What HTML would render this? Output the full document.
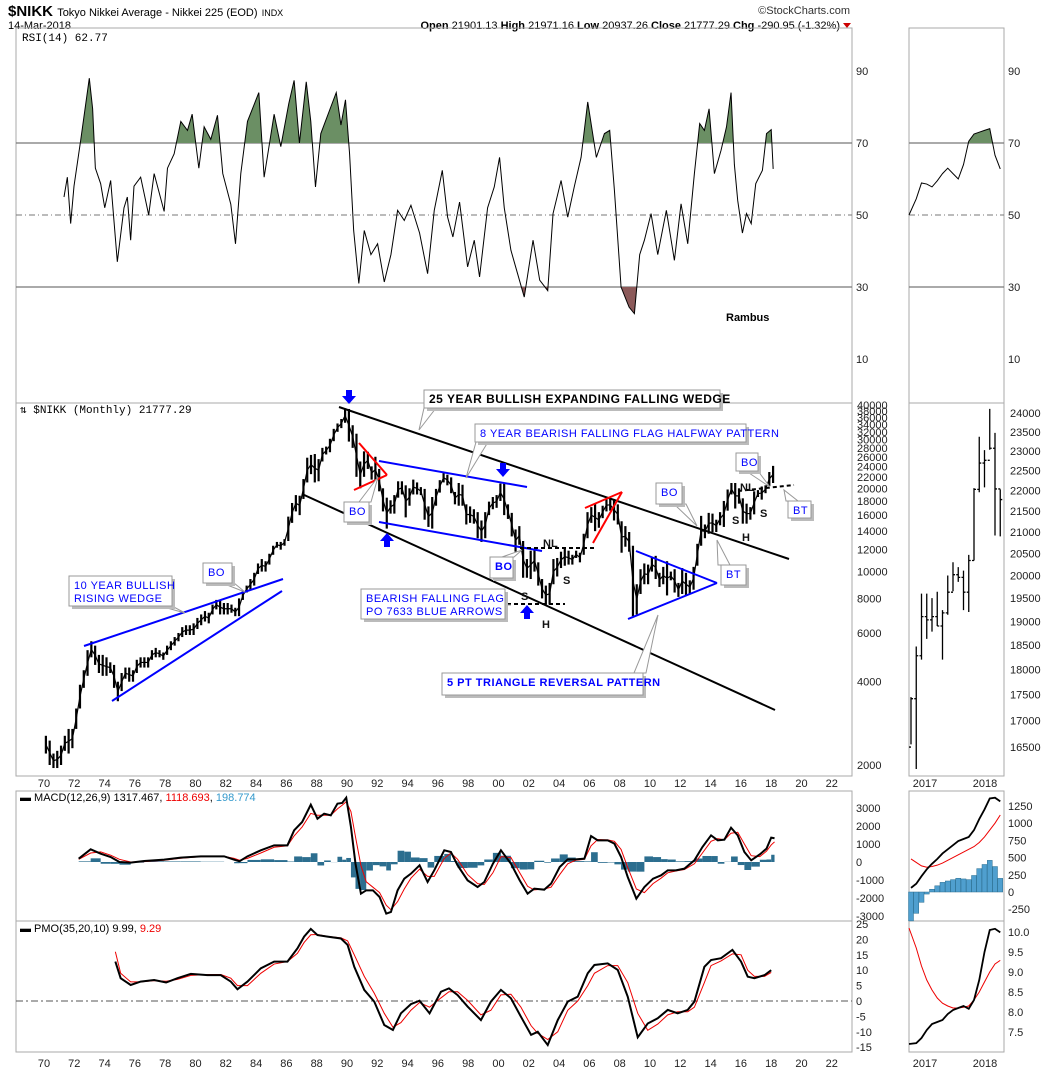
<!DOCTYPE html>
<html><head><meta charset="utf-8"><style>
body{margin:0;background:#fff;}
svg{display:block;font-family:"Liberation Sans",sans-serif;}
.ax{font-size:11px;fill:#222;}
</style></head><body>
<svg id="c" width="1050" height="1069" viewBox="0 0 1050 1069">
<g>
<text x="8" y="16" font-size="15" font-weight="bold">$NIKK <tspan font-size="11" font-weight="normal">Tokyo Nikkei Average - Nikkei 225 (EOD)</tspan> <tspan font-size="9" font-weight="normal">INDX</tspan></text>
<text x="8" y="29" font-size="11">14-Mar-2018</text>
<text x="850" y="14" font-size="11" fill="#333" text-anchor="end">©StockCharts.com</text>
<text x="840" y="29" font-size="11" text-anchor="end"><tspan font-weight="bold">Open</tspan> 21901.13 <tspan font-weight="bold">High</tspan> 21971.16 <tspan font-weight="bold">Low</tspan> 20937.26 <tspan font-weight="bold">Close</tspan> 21777.29 <tspan font-weight="bold">Chg</tspan> -290.95 (-1.32%)</text>
<polygon points="843,23 851,23 847,28" fill="#c00"/>
</g>
<g id="frames"></g>
<g id="plot"></g>
<g id="notes"></g>
</svg>
<script>
// ---------- data ----------
const priceLowsK=[2.2,2.0,1.95,1.95, 2.0,2.25,2.2,2.3, 2.7,3.2,3.8,4.2, 4.9,4.6,4.3,4.2, 4.2,4.3,3.8,3.4, 3.7,4.1,4.0,4.0, 4.3,4.5,4.5,4.5, 4.8,4.9,4.9,4.8, 5.0,5.2,5.4,5.6, 5.8,5.9,5.9,5.9, 6.2,6.4,6.6,6.5, 7.0,7.3,7.0,7.0, 7.0,7.1,6.9,6.9, 7.9,8.4,8.6,8.9, 9.8,10.0,10.0,10.6, 11.5,12.2,12.0,12.4, 12.9,15.0,16.5,16.0, 18.3,21.0,22.5,21.0, 21.2,25.0,26.5,27.0, 29.6,32.0,33.0,34.5, 29.5,28.0,22.0,20.0, 22.0,23.5,21.5,21.0, 19.5,16.5,14.3,16.2, 16.2,18.5,19.0,15.7, 17.3,19.0,19.0,18.9, 15.4,14.5,14.3,17.3, 19.3,21.0,20.5,19.2, 17.5,17.3,17.3,14.8, 15.0,14.9,13.2,12.8, 13.2,16.0,16.8,17.0, 18.0,16.0,15.5,13.4, 11.8,12.5,9.5,9.5, 9.4,10.0,8.9,8.0, 7.6,7.6,9.0,9.6, 10.3,10.5,10.6,10.6, 11.2,10.8,11.5,13.2, 15.0,14.0,14.4,15.6, 16.5,16.6,15.3,14.8, 11.7,12.3,11.8,6.9, 7.0,8.3,9.0,9.0, 10.0,9.4,8.8,9.0, 8.2,9.3,8.4,8.1, 8.3,8.2,8.3,8.6, 10.5,12.4,13.2,13.7, 13.9,13.9,14.7,14.5, 16.6,19.0,16.9,17.6, 14.9,14.9,15.4,16.1, 18.6,18.2,19.2,20.4, 20.9];
const priceHighsK=[2.55,2.45,2.2,2.25, 2.35,2.55,2.7,2.7, 3.2,3.9,4.4,5.2, 5.6,5.4,5.0,5.0, 4.9,4.7,4.6,4.0, 4.3,4.5,4.5,4.4, 4.8,4.9,4.9,4.9, 5.2,5.3,5.2,5.1, 5.4,5.6,5.8,6.0, 6.3,6.4,6.4,6.5, 6.8,7.0,7.2,7.1, 7.6,7.9,7.9,7.7, 7.7,7.6,7.4,8.0, 8.5,8.9,9.4,9.9, 10.7,11.1,10.9,11.6, 12.4,12.8,12.8,13.1, 15.8,17.7,18.9,18.8, 21.6,25.8,26.4,26.6, 25.5,28.0,28.3,30.2, 32.8,34.3,35.6,38.9, 38.7,33.8,31.5,25.0, 27.2,27.1,24.0,26.0, 23.5,20.0,18.5,18.1, 18.9,21.2,21.2,20.5, 20.0,21.5,21.0,20.2, 19.9,17.2,18.6,19.9, 21.4,22.7,22.4,21.9, 19.4,20.9,20.6,17.5, 17.2,16.8,16.4,15.3, 16.4,17.9,18.6,18.9, 20.8,20.8,17.5,16.3, 14.2,14.6,12.9,11.1, 11.9,12.0,10.8,9.4, 8.9,9.1,11.1,11.2, 11.8,12.2,11.9,11.5, 11.9,11.7,13.7,16.4, 17.1,17.6,16.4,17.3, 18.3,18.3,18.3,17.5, 15.2,14.6,13.9,12.4, 9.0,10.2,10.7,10.6, 11.3,11.4,9.9,10.4, 10.9,10.0,10.2,9.1, 10.3,9.9,9.3,10.4, 12.6,15.9,14.8,16.3, 16.2,15.4,16.4,18.0, 19.8,20.9,20.9,20.0, 18.4,17.6,17.1,19.5, 19.7,20.3,20.5,22.9, 24.1];
const priceTicks=[40000,38000,36000,34000,32000,30000,28000,26000,24000,22000,20000,18000,16000,14000,12000,10000,8000,6000,4000,2000];
const yearLabels=["70","72","74","76","78","80","82","84","86","88","90","92","94","96","98","00","02","04","06","08","10","12","14","16","18","20","22"];

const rsiT=[1.32,1.54,1.76,1.98,2.42,2.99,3.21,3.39,3.74,4.01,4.40,4.84,5.28,5.50,5.72,5.94,6.38,6.91,7.27,7.93,8.15,8.59,9.03,9.47,9.78,10.22,10.57,11.01,11.45,11.80,12.33,12.64,12.99,13.43,14.18,14.53,15.19,15.63,16.16,16.51,16.86,17.31,17.61,17.92,18.27,18.93,19.29,19.60,19.90,20.17,20.44,20.78,21.14,21.58,22.02,22.46,22.90,23.34,23.78,24.22,24.79,25.32,25.76,26.29,26.64,26.99,27.43,27.96,28.40,28.75,29.28,29.72,30.07,30.38,30.82,31.26,31.70,32.28,32.72,33.25,33.60,34.13,34.57,35.01,35.45,35.89,36.46,36.99,37.34,37.65,38.09,38.62,38.97,39.32,39.63,40.07,40.51,41.08,41.61,42.05,42.49,42.93,43.28,43.59,43.90,44.25,44.69,45.05,45.35,45.57,45.79,46.10,46.37,46.68,46.98,47.42,47.69,48.00,48.13];
const rsiValues=[55,60.5,47.6,58,70.7,88,79.5,63,58.7,52,59.6,37,52,55,43,58,60.5,50,61.5,51,63,67,76,73.5,78,63,74.5,71,77.7,61.5,53,42,61.5,76,84,60.5,78,69,81,87.4,70,87,76,57.8,72.6,80,84,75,82,67,45.7,31,45.7,39,42,31.4,39,51.3,48.5,52.7,45,33.7,51.3,62.4,49.4,43.9,53.6,35.6,43,32.8,52,57.8,66,52,40.2,33.7,27.2,43,31.9,29,50.4,59.6,49.4,58,66,81.4,66,72.6,73.5,56.9,30,24.4,22.6,39,43,50.4,39,51.3,37.4,53.1,42,61.5,75.4,73.5,79.5,61.5,68,74.5,84,64,54,45,50.4,47.6,58.7,62.4,72.6,73.7,62.8];

const macdT=[2.29,3.08,3.74,4.40,4.98,5.72,6.61,7.93,9.03,10.35,11.89,12.55,12.90,13.43,14.31,15.19,16.07,16.51,17.04,17.61,18.05,18.49,18.93,19.37,19.68,19.95,20.26,20.56,20.92,21.27,21.71,22.15,22.59,22.90,23.34,23.78,24.22,24.79,25.32,25.76,26.42,26.86,27.30,27.96,28.62,29.06,29.63,30.16,30.82,31.40,31.92,32.36,33.02,33.47,34.04,34.57,35.10,35.67,36.11,36.55,37.21,37.65,38.09,38.53,39.10,39.63,40.20,40.73,41.17,41.70,42.27,42.93,43.46,44.03,44.47,44.91,45.35,45.79,46.23,46.68,47.25,47.69,48.00,48.22];
const macdLine=[185,704,463,278,0,-37,56,130,241,315,315,130,37,315,648,926,926,1759,2222,3185,2407,2685,2593,3241,3278,3574,1944,-93,-1759,-1574,-1574,-1944,-2870,-2778,-1574,-926,-648,-185,-1111,-463,648,556,-185,-1019,-1389,-1111,-93,648,-93,-1019,-1759,-1481,-1537,-1204,-278,148,148,185,1444,1204,1204,1019,278,-833,-2037,-1389,-926,-741,-463,-463,-370,93,833,1481,1204,1241,1907,1481,556,93,426,741,1352,1317];
const macdSignal=[150,500,560,380,150,0,20,100,210,300,315,200,100,200,500,820,900,1450,1950,2700,2600,2600,2600,2950,3150,3350,2800,1400,-200,-1100,-1400,-1700,-2400,-2650,-2200,-1500,-900,-400,-800,-800,200,500,150,-700,-1200,-1250,-600,300,250,-600,-1350,-1550,-1500,-1400,-700,-100,100,150,900,1250,1230,1150,700,-300,-1500,-1700,-1200,-900,-600,-500,-420,-100,500,1150,1300,1230,1600,1650,1000,350,300,600,950,1119];
const macdTicks=[3000,2000,1000,0,-1000,-2000,-3000];

const pmoT=[4.71,5.06,5.72,6.38,7.27,8.06,8.81,9.69,10.79,11.67,12.33,12.77,13.43,14.31,15.19,16.07,16.73,17.17,17.61,18.05,18.71,19.60,20.04,20.48,21.14,21.80,22.46,23.03,23.56,24.22,24.79,25.45,26.20,26.73,27.30,27.96,28.84,29.50,30.16,30.82,31.48,32.15,32.59,33.25,33.91,34.57,35.23,35.89,36.33,37.21,37.87,38.53,39.19,39.85,40.51,41.17,41.83,42.49,42.93,43.59,44.03,44.69,45.44,46.01,46.45,46.89,47.56,48.00];
const pmoLine=[12.8,7.4,5.2,6.3,6.8,6.0,7.4,8.8,8.4,8.4,6.3,3.8,6.3,10.6,12.8,12.8,17.1,20.9,23.4,21.4,20.9,20.3,18.2,11.1,3.6,-0.2,-7.8,-9.4,-4.0,-1.0,0.1,-4.0,3.0,4.1,1.9,-1.8,-6.2,-0.2,3.6,0.9,-5.1,-11.0,-10.0,-14.3,-6.2,-0.2,1.4,9.0,11.7,12.2,10.1,1.4,-11.8,-7.3,-5.6,-2.9,-4.0,-2.9,-0.2,11.1,13.3,13.9,16.6,12.8,7.9,7.4,8.4,9.99];
const pmoSignal=[16,9,6.2,6.2,6.6,6.4,7,8.3,8.6,8.6,7.4,5,5,9,12,12.8,15.5,19,21.5,21.6,21,20.5,19.5,15,8,2.5,-4,-8.5,-7,-3,-0.5,-2,1,3,3,0.2,-4.5,-3,2,2.2,-2,-8,-10.5,-12.5,-10,-3,0,5,9,11.5,11.5,6,-4,-9.5,-7.5,-4.5,-3.5,-3.5,-2,6,11.5,13,15.3,15,10,8,8,9.29];
const pmoTicks=[25,20,15,10,5,0,-5,-10,-15];
const rsiTicks=[90,70,50,30,10];

const rOpen=[16500,17420,18280,19100,19030,19100,18900,19180,19630,20020,19960,19630,20340,22030,22690,22760,23070,22040];
const rHigh=[17450,18470,19600,19600,19500,19640,19240,20000,20300,20190,20110,20470,22060,23370,23020,24110,23470,22030];
const rLow=[16550,16100,18200,18630,18780,18900,18200,19140,19650,19860,19240,19200,20340,21960,22080,23030,20920,20900];
const rClose=[17420,18280,19100,19030,19100,18900,19180,19630,20020,19960,19630,20340,22030,22690,22760,23070,22040,21780];
const rRsi=[50,54.5,58.9,58.6,57.8,59.5,61.5,63,61.5,60,64,70.5,72.5,73,73.5,74,66.6,62.8];
const rMacd=[60,120,230,330,410,480,560,620,680,740,770,800,900,1060,1200,1360,1370,1317];
const rSignal=[480,430,380,360,370,390,420,460,500,540,580,620,660,720,800,900,1000,1119];
const rPmo=[7.2,7.22,7.35,7.55,7.7,7.75,7.8,7.95,8.05,8.1,8.15,8.08,8.3,8.8,9.5,10.05,10.08,9.99];
const rPmoSig=[10.1,9.6,9.15,8.8,8.55,8.35,8.22,8.15,8.1,8.1,8.12,8.15,8.3,8.5,8.75,9.0,9.2,9.29];
const rPriceTicks=[24000,23500,23000,22500,22000,21500,21000,20500,20000,19500,19000,18500,18000,17500,17000,16500];
const rMacdTicks=[1250,1000,750,500,250,0,-250];
const rPmoTicks=[10.0,9.5,9.0,8.5,8.0,7.5];

// ---------- scales ----------
const X=t=>44+t*15.15;
const PY=v=>405+Math.log10(40000/v)*276.7;
const RY=v=>71+(90-v)*3.6;
const MY=v=>862-v*0.018;
const OY=v=>1001-v*3.08;
const RX=i=>911+i*5.25;
const RPY=v=>413+Math.log10(24000/v)*2053;
const RMY=v=>892-v*0.0688;
const ROY=v=>932-(v-10)*40;

const NS="http://www.w3.org/2000/svg";
function mk(tag,attrs,parent){const e=document.createElementNS(NS,tag);for(const k in attrs)e.setAttribute(k,attrs[k]);parent.appendChild(e);return e;}
const frames=document.getElementById('frames'),plot=document.getElementById('plot'),notes=document.getElementById('notes');

[[16,28,852,403,'rsi-panel'],[16,403,852,776,'price-panel'],[16,791,852,921,'macd-panel'],[16,921,852,1052,'pmo-panel'],
 [909,28,1004,403,'rsi-zoom-panel'],[909,403,1004,776,'price-zoom-panel'],[909,791,1004,921,'macd-zoom-panel'],[909,921,1004,1052,'pmo-zoom-panel']].forEach(f=>{
 const r=mk('rect',{x:f[0],y:f[1],width:f[2]-f[0],height:f[3]-f[1],fill:'none',stroke:'#aaa','stroke-width':1},frames);
 
 
});

[783,1063].forEach(yy=>{
 yearLabels.forEach((lab,i)=>{
  const t=mk('text',{x:X(i*2),y:yy+4,class:'ax','text-anchor':'middle'},frames);t.textContent=lab;
  
  
 });
 ['2017','2018'].forEach((lab,i)=>{
  const t=mk('text',{x:925+i*60,y:yy+4,class:'ax','text-anchor':'middle'},frames);t.textContent=lab;
  
  
 });
});

rsiTicks.forEach(v=>{
 [[856,'rsi-tick'],[1008,'zoom-rsi-tick']].forEach(p=>{
  const t=mk('text',{x:p[0],y:RY(v)+4,class:'ax'},frames);t.textContent=v;
  
  
 });
});
[[16,852],[909,1004]].forEach(s=>{
 [70,30].forEach(v=>mk('line',{x1:s[0],x2:s[1],y1:RY(v),y2:RY(v),stroke:'#777','stroke-width':1.2},plot));
 mk('line',{x1:s[0],x2:s[1],y1:RY(50),y2:RY(50),stroke:'#777','stroke-dasharray':'6,3,1,3'},plot);
});
function rsiGroup(pts,tag){
 const defs=mk('defs',{},plot);
 const c1=mk('clipPath',{id:'ca'+tag},defs);mk('rect',{x:0,y:0,width:1050,height:RY(70)},c1);
 const c2=mk('clipPath',{id:'cb'+tag},defs);mk('rect',{x:0,y:RY(30),width:1050,height:200},c2);
 const first=pts[0],last=pts[pts.length-1];
 const ptsStr=pts.map(p=>p.join(',')).join(' ');
 const g1=mk('polygon',{points:first[0]+','+RY(70)+' '+ptsStr+' '+last[0]+','+RY(70),fill:'#6b8f64','clip-path':'url(#ca'+tag+')'},plot);
 
 
 const g2=mk('polygon',{points:first[0]+','+RY(30)+' '+ptsStr+' '+last[0]+','+RY(30),fill:'#8c5a5a','clip-path':'url(#cb'+tag+')'},plot);
 
 
 const l=mk('polyline',{points:ptsStr,fill:'none',stroke:'#000','stroke-width':1},plot);
 
 
}
const nR=Math.min(rsiT.length,rsiValues.length);
rsiGroup(rsiT.slice(0,nR).map((t,i)=>[X(t),RY(rsiValues[i])]),'m');
rsiGroup(rRsi.map((v,i)=>[i===0?909:RX(i),RY(v)]),'r');
{const t=mk('text',{x:22,y:41,'font-size':11,fill:'#000','font-family':'Liberation Mono, monospace'},plot);t.textContent='RSI(14) 62.77';
 
 }
{const t=mk('text',{x:726,y:321,'font-size':11,'font-weight':'bold'},plot);t.textContent='Rambus';
 
 }

priceTicks.forEach(v=>{
 const t=mk('text',{x:857,y:PY(v)+4,class:'ax'},frames);t.textContent=v;
 
 
});
rPriceTicks.forEach(v=>{
 const t=mk('text',{x:1010,y:RPY(v)+4,class:'ax'},frames);t.textContent=v;
 
 
});
const nP=Math.min(priceLowsK.length,priceHighsK.length);
const midPts=[];
for(let i=0;i<nP;i++){
 const x=X(i*0.25+0.125);
 const yh=PY(priceHighsK[i]*1000),yl=PY(priceLowsK[i]*1000);
 midPts.push(x+','+((yh+yl)/2));
 const b=mk('line',{x1:x,x2:x,y1:yh,y2:yl,stroke:'#000','stroke-width':2.2},plot);
 
 
}
{const l=mk('polyline',{points:midPts.join(' '),fill:'none',stroke:'#000','stroke-width':1.2},plot);
 
 }
rClose.forEach((c,i)=>{
 const x=RX(i);
 const b=mk('path',{d:`M${x},${RPY(rHigh[i])}V${RPY(rLow[i])}M${x-2},${RPY(rOpen[i])}H${x}M${x},${RPY(c)}H${x+2}`,stroke:'#000','stroke-width':1.3,fill:'none'},plot);
 
 
});
{const t=mk('text',{x:20,y:413,'font-size':11,'font-family':'Liberation Mono, monospace'},plot);t.textContent='⇅ $NIKK (Monthly) 21777.29';
 
 }

macdTicks.forEach(v=>{
 const t=mk('text',{x:856,y:MY(v)+4,class:'ax'},frames);t.textContent=v;
 
 
});
rMacdTicks.forEach(v=>{
 const t=mk('text',{x:1008,y:RMY(v)+4,class:'ax'},frames);t.textContent=v;
 
 
});
for(let i=0;i<macdT.length-1;i++){
 const h=macdLine[i]-macdSignal[i];
 const x0=X(macdT[i]),x1=X(macdT[i+1]);
 const b=mk('rect',{x:x0,width:Math.max(1,x1-x0),y:Math.min(MY(0),MY(h)),height:Math.abs(MY(h)-MY(0)),fill:'#2c6e8f'},plot);
 
 
}
{const l=mk('polyline',{points:macdT.map((t,i)=>X(t)+','+MY(macdSignal[i])).join(' '),fill:'none',stroke:'#e00','stroke-width':1},plot);
 
 
 const m=mk('polyline',{points:macdT.map((t,i)=>X(t)+','+MY(macdLine[i])).join(' '),fill:'none',stroke:'#000','stroke-width':2},plot);
 
 }
rMacd.forEach((v,i)=>{
 const h=v-rSignal[i];
 const b=mk('rect',{x:RX(i)-2.5,width:5,y:Math.min(RMY(0),RMY(h)),height:Math.abs(RMY(h)-RMY(0)),fill:'#4f9fcf',stroke:'#2c6e8f','stroke-width':0.5},plot);
 
 
});
{const l=mk('polyline',{points:rSignal.map((v,i)=>RX(i)+','+RMY(v)).join(' '),fill:'none',stroke:'#e00','stroke-width':1},plot);
 
 
 const m=mk('polyline',{points:rMacd.map((v,i)=>RX(i)+','+RMY(v)).join(' '),fill:'none',stroke:'#000','stroke-width':1.8},plot);
 
 }
{const t=mk('text',{x:20,y:801,'font-size':11},plot);
 t.innerHTML='<tspan font-weight="bold">▬</tspan> MACD(12,26,9) 1317.467, <tspan fill="#e00">1118.693</tspan>, <tspan fill="#3399cc">198.774</tspan>';
 
 }

pmoTicks.forEach(v=>{
 const t=mk('text',{x:856,y:OY(v)+4,class:'ax'},frames);t.textContent=v;
 
 
});
rPmoTicks.forEach(v=>{
 const t=mk('text',{x:1008,y:ROY(v)+4,class:'ax'},frames);t.textContent=v.toFixed(1);
 
 
});
mk('line',{x1:16,x2:852,y1:OY(0),y2:OY(0),stroke:'#555','stroke-dasharray':'7,3,2,3'},plot);
{const l=mk('polyline',{points:pmoT.map((t,i)=>X(t)+','+OY(pmoSignal[i])).join(' '),fill:'none',stroke:'#e00','stroke-width':1},plot);
 
 
 const m=mk('polyline',{points:pmoT.map((t,i)=>X(t)+','+OY(pmoLine[i])).join(' '),fill:'none',stroke:'#000','stroke-width':2},plot);
 
 
 const l2=mk('polyline',{points:rPmoSig.map((v,i)=>(i===0?909:RX(i))+','+ROY(v)).join(' '),fill:'none',stroke:'#e00','stroke-width':1},plot);
 
 
 const m2=mk('polyline',{points:rPmo.map((v,i)=>(i===0?909:RX(i))+','+ROY(v)).join(' '),fill:'none',stroke:'#000','stroke-width':1.8},plot);
 
 }
{const t=mk('text',{x:20,y:932,'font-size':11},plot);
 t.innerHTML='<tspan font-weight="bold">▬</tspan> PMO(35,20,10) 9.99, <tspan fill="#e00">9.29</tspan>';
 
 }

// ---------- annotations ----------
function ln(x1,y1,x2,y2,col,w,dash,name){const l=mk('line',{x1,y1,x2,y2,stroke:col,'stroke-width':w},notes);if(dash)l.setAttribute('stroke-dasharray',dash);
 
 }
ln(339,407,789,559,'#000',2,null,'wedge-upper-line');
ln(302,494,775,710,'#000',2,null,'wedge-lower-line');
ln(84,646,283,579,'#0000ff',2,null,'rising-wedge-upper');
ln(112,701,282,591,'#0000ff',2,null,'rising-wedge-lower');
ln(379,461,527,487,'#0000ff',2,null,'flag-upper-line');
ln(379,522,542,551,'#0000ff',2,null,'flag-lower-line');
ln(359,443,387,475,'#f00',2,null,'red-pennant-upper');
ln(387,475,354,490,'#f00',2,null,'red-pennant-lower');
ln(585,508,622,492,'#f00',2,null,'red-wedge-upper');
ln(593,543,622,492,'#f00',2,null,'red-wedge-lower');
ln(636,551,717,583,'#0000ff',2,null,'triangle-upper');
ln(717,583,628,619,'#0000ff',2,null,'triangle-lower');
ln(520,548,597,548,'#000',2,'4,3','neckline-2004');
ln(507,604,565,604,'#000',2,'4,3','head-low-line');
ln(738,491,794,485,'#000',2,'4,3','neckline-2016');
function arrow(x,y,down,name){
 const d=down?`M${x-3},${y-8}h6v6h4l-7,8l-7,-8h4z`:`M${x-3},${y+8}h6v-6h4l-7,-8l-7,8h4z`;
 const p=mk('path',{d,fill:'#0000ff'},notes);
 
 
}
arrow(349,398,true,'arrow-down-1990');arrow(387,539,false,'arrow-up-1992');arrow(503,471,true,'arrow-down-2000');arrow(527,611,false,'arrow-up-2003');
function callout(x,y,w,h,lines,px,py,opts,name){
 const g=mk('g',{},notes);
 
 
 const cx=opts.ax!==undefined?opts.ax:x+w/2, cy=opts.ay!==undefined?opts.ay:(py<y?y:y+h);
 mk('polygon',{points:`${cx-6},${cy} ${px},${py} ${cx+6},${cy}`,fill:'#fff',stroke:'#999'},g);
 mk('rect',{x:x+3,y:y+3,width:w,height:h,fill:'#bbb'},g);
 mk('rect',{x,y,width:w,height:h,fill:'#fff',stroke:'#999'},g);
 lines.forEach((s,i)=>{const t=mk('text',{x:x+5,y:y+13+i*13,'font-size':opts.fs||11,fill:opts.col||'#0000ff','font-weight':opts.bold?'bold':'normal','letter-spacing':opts.ls||0.5},g);t.textContent=s;});
}
callout(424,390,296,18,['25 YEAR BULLISH EXPANDING FALLING WEDGE'],419,430,{col:'#000',bold:true,fs:12,ls:0,ax:430},'wedge-callout');
callout(475,424,271,18,['8 YEAR BEARISH FALLING FLAG HALFWAY PATTERN'],466,478,{ax:482},'flag-callout');
callout(69,576,103,30,['10 YEAR BULLISH','RISING WEDGE'],185,613,{ax:166,ay:606},'rising-wedge-callout');
callout(203,563,29,20,['BO'],245,592,{ax:228,ay:583},'bo-callout-1983');
callout(344,502,25,20,['BO'],378,477,{ax:365,ay:502},'bo-callout-1992');
callout(490,557,23,21,['BO'],522,550,{ax:508,ay:557,bold:true},'bo-callout-2001');
callout(361,589,144,30,['BEARISH FALLING FLAG','PO 7633 BLUE ARROWS'],505,605,{ax:505,ay:605},'falling-flag-callout');
callout(442,673,201,22,['5 PT TRIANGLE REVERSAL PATTERN'],658,615,{ax:640,ay:673,bold:true,fs:11,ls:0},'triangle-callout');
callout(656,483,26,21,['BO'],697,526,{ax:680,ay:504},'bo-callout-2013');
callout(721,565,25,20,['BT'],717,540,{ax:724,ay:565},'bt-callout-2014');
callout(736,453,22,18,['BO'],770,487,{ax:752,ay:471},'bo-callout-2017');
callout(788,501,23,17,['BT'],784,490,{ax:792,ay:501},'bt-callout-2018');
[['NL',547,543,'nl-label-1'],['S',567,580,'s-label-1'],['S',525,596,'s-label-2'],['H',546,624,'h-label-1'],['NL',744,487,'nl-label-2'],['S',736,520,'s-label-3'],['H',746,537,'h-label-2'],['S',764,513,'s-label-4']].forEach(a=>{
 const t=mk('text',{x:a[1]-4,y:a[2]+4,'font-size':11,'font-weight':'bold',fill:'#111'},notes);t.textContent=a[0];
 
 
});
</script>
</body></html>
